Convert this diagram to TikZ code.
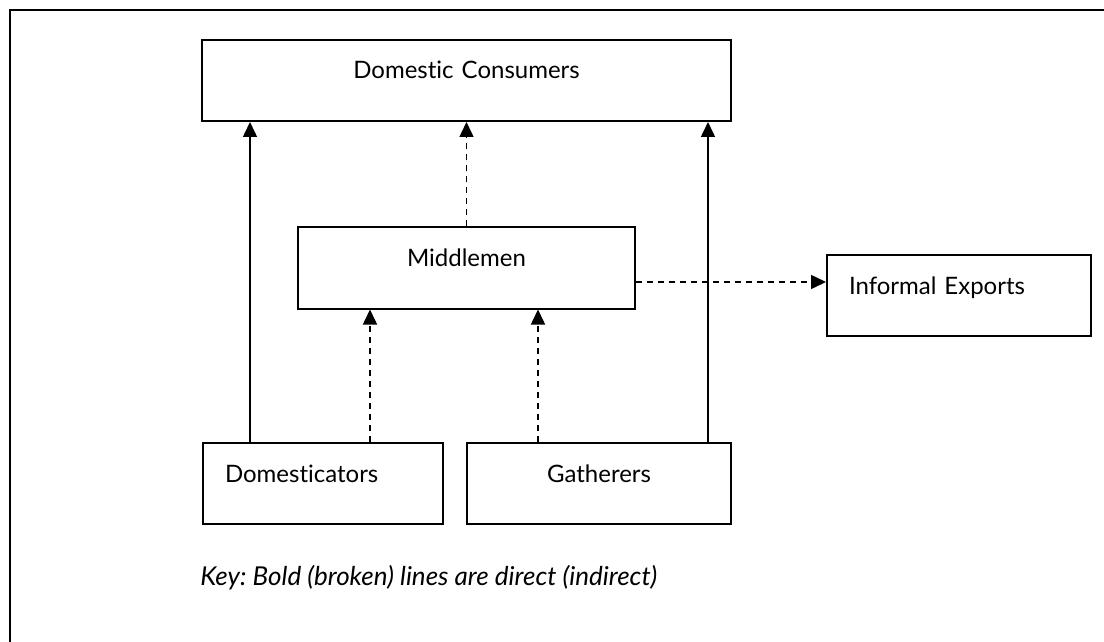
\documentclass[tikz,border=0pt]{standalone}
\usepackage{fontspec}
\setmainfont{Lato}[Ligatures=NoCommon]
\usetikzlibrary{arrows.meta}
\frenchspacing
\tikzset{
    flow-box/.style = {draw=black, line width=1pt, rectangle, inner sep=0pt, text height=19.5pt, text depth=21pt, align=center, font=\fontsize{12}{14}\selectfont},
    flow-box-left/.style = {flow-box, align=left, inner xsep=11pt},
    direct-link/.style = {line width=0.75pt, -{Triangle[length=7.5pt, width=7pt]}},
    indirect-link/.style = {direct-link, dash pattern=on 3pt off 2.5pt},
}

\begin{document}
\begin{tikzpicture}[x=0.5pt, y=-0.5pt]
\useasboundingbox (0,0) rectangle (1104,642);
\clip (0,0) rectangle (1104,642);
\draw[line width=1pt] (9.5,10) rectangle (1130,670);

\node[flow-box, text width=264.5pt] (consumers) at (466.5,80.5) {Domestic Consumers};
\node[flow-box, text width=168.5pt] (middlemen) at (466.5,268) {Middlemen};
\node[flow-box-left, text width=110pt] (exports) at (959,295.5) {Informal Exports};
\node[flow-box-left, text width=98pt] (domesticators) at (323,483.5) {Domesticators};
\node[flow-box, text width=132pt] (gatherers) at (599,483.5) {Gatherers};

% direct routes
\draw[direct-link] ([xshift=24pt]domesticators.north west) -- ([xshift=24pt]domesticators.north west |- consumers.south);
\draw[direct-link] ([xshift=-12pt]gatherers.north east) -- ([xshift=-12pt]gatherers.north east |- consumers.south);

% indirect routes
\draw[indirect-link] ([xshift=84pt]domesticators.north west) -- ([xshift=84pt]domesticators.north west |- middlemen.south);
\draw[indirect-link] ([xshift=36pt]gatherers.north west) -- ([xshift=36pt]gatherers.north west |- middlemen.south);
\draw[indirect-link] (middlemen.north) -- (consumers.south);
\draw[indirect-link] ([yshift=-7pt]middlemen.east) -- ([yshift=-7pt]middlemen.east -| exports.west);

\node[anchor=base west, inner sep=0pt, font=\itshape\fontsize{13}{15}\selectfont] (key) at (200,585) {Key: Bold (broken) lines are direct (indirect)};
\end{tikzpicture}
\end{document}
